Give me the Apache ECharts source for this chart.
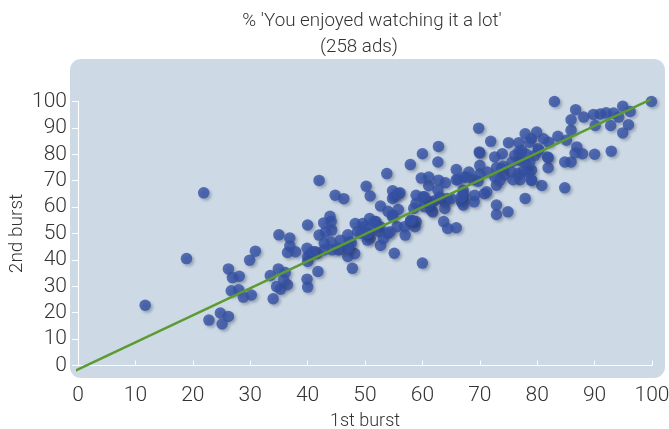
<!DOCTYPE html>
<html>
<head>
<meta charset="utf-8">
<script src="https://cdn.jsdelivr.net/npm/echarts@6/dist/echarts.min.js"></script>
<style>html,body{margin:0;padding:0;background:#fff;}#c{width:669px;height:429px;}</style>
</head>
<body>
<div id="c"></div>
<script>
const titleLine1 = "% 'You enjoyed watching it a lot'";
const titleLine2 = "(258 ads)";
const xName = "1st burst";
const yName = "2nd burst";
const xTicks = [0,10,20,30,40,50,60,70,80,90,100];
const yTicks = [0,10,20,30,40,50,60,70,80,90,100];
const firstBurst = [
11.7,18.9,21.9,22.8,24.8,26.2,25.1,26.2,26.9,28.1,26.7,28.0,28.8,30.2,29.9,30.9,34.0,33.5,34.9,36.1,
34.6,35.3,36.5,35.8,35.0,36.9,36.9,36.5,37.9,40.0,39.9,40.0,40.0,39.9,40.0,41.8,42.0,42.8,43.9,44.8,
46.3,42.0,43.1,44.2,42.9,44.1,41.7,40.4,45.7,47.0,47.0,48.2,47.8,41.4,42.9,44.3,45.5,47.1,47.3,48.3,
49.6,50.8,51.9,48.7,50.0,52.6,52.5,54.0,53.2,52.7,50.9,50.4,55.1,55.6,56.9,57.9,58.9,58.7,57.0,60.0,
50.2,50.9,54.8,56.1,55.1,58.9,60.1,61.1,59.8,61.1,58.9,60.4,52.7,54.0,54.8,55.8,58.5,58.3,51.6,54.8,
53.8,57.9,60.0,62.8,62.7,62.8,64.0,62.7,64.4,63.2,62.1,61.8,63.9,63.9,61.5,63.7,64.4,65.9,54.8,55.7,
66.8,67.1,67.1,67.1,67.1,67.1,69.1,69.0,70.8,72.9,72.9,74.9,65.9,65.9,67.3,68.1,68.9,69.7,70.0,70.0,
70.0,69.8,71.9,72.6,73.9,72.9,74.1,74.2,72.9,71.3,72.6,75.0,76.8,77.9,79.0,79.9,81.1,82.0,83.6,85.1,
85.9,77.3,76.1,77.0,75.6,78.0,79.0,77.6,76.7,75.5,77.0,75.8,78.4,80.2,79.6,81.9,81.9,84.8,85.9,86.9,
86.6,87.9,84.8,80.8,77.9,83.0,99.9,86.7,85.9,88.1,89.8,91.0,92.0,93.3,94.9,96.2,94.2,92.8,90.1,95.9,
94.9,92.9,90.0,78.7,76.8,78.1,80.2,81.8,69.9,61.2,61.2,63.0,65.0,66.8,73.5,79.0,78.7,73.8,47.6,50.6,
49.3,44.1,47.0,45.2,40.9,51.9,50.4,54.4,58.0,71.2,66.2,67.7,60.4,79.0
];
const secondBurst = [
22.8,40.5,65.4,17.2,19.9,18.6,15.7,36.6,33.3,33.8,28.3,28.7,25.9,26.7,39.9,43.3,25.3,34.1,36.6,35.2,
29.9,28.9,30.6,32.5,49.5,48.3,45.3,42.8,43.1,53.2,44.4,41.2,39.4,32.7,29.7,35.6,70.1,54.0,56.5,64.5,
63.2,49.4,50.5,51.3,46.3,46.8,42.5,41.9,47.4,49.5,41.3,42.4,36.8,43.1,43.8,43.8,43.8,45.0,46.9,53.8,
53.8,55.7,54.5,50.7,52.6,52.6,50.7,50.1,48.0,45.5,48.2,47.5,42.5,52.6,52.6,54.5,54.5,52.6,49.4,38.8,
67.9,64.2,66.2,65.4,63.9,64.5,63.9,68.1,71.0,71.4,61.4,60.1,60.4,58.4,57.0,59.1,59.5,54.8,54.5,56.4,
72.7,76.1,80.2,83.0,77.1,70.2,69.2,66.4,63.3,63.3,62.4,58.2,59.5,62.0,58.9,54.5,51.9,52.2,63.3,65.1,
62.0,66.4,65.0,63.6,62.2,60.8,64.5,62.0,65.1,60.8,57.2,58.2,74.2,70.4,71.4,73.3,70.4,69.8,72.5,75.8,
80.5,89.9,84.9,79.0,80.2,74.9,75.5,72.1,68.3,73.3,71.4,84.4,84.4,87.8,85.9,88.4,85.9,84.6,86.8,85.3,
89.1,81.5,79.6,77.7,77.1,76.5,74.0,73.7,72.7,73.3,70.4,70.4,73.3,82.1,79.6,78.7,74.9,77.1,77.1,82.8,
80.5,80.2,67.3,68.2,63.3,100.0,100.0,96.9,93.1,94.1,95.1,95.3,95.7,95.6,98.2,96.2,94.1,90.9,90.9,91.2,
88.1,81.2,80.0,84.6,80.9,80.0,81.5,79.0,80.9,60.8,62.0,63.9,63.3,63.9,70.2,70.2,77.1,74.6,46.5,50.1,
50.1,54.5,44.4,44.4,43.1,52.6,50.1,50.7,55.1,65.8,70.4,71.4,63.9,70.2
];
const fitLineX = [-1.4, 99.8];
const fitLineY = [-2.9, 100.8];

const points = firstBurst.map((v, i) => [v, secondBurst[i]]);
const fitLine = fitLineX.map((v, i) => [v, fitLineY[i]]);

const FONT = 'Roboto';
const chart = echarts.init(document.getElementById('c'), null, {renderer: 'canvas'});
chart.setOption({
  animation: false,
  backgroundColor: '#ffffff',
  title: [
    {text: titleLine1, left: 367, top: 7, textAlign: 'center',
     textStyle: {fontFamily: FONT, fontWeight: 300, fontSize: 18.8, color: '#333'}},
    {text: titleLine2, left: 354, top: 33, textAlign: 'center',
     textStyle: {fontFamily: FONT, fontWeight: 300, fontSize: 18.8, color: '#333'}}
  ],
  graphic: [{
    type: 'rect', z: -100,
    shape: {x: 70, y: 59, width: 595, height: 319, r: 11},
    style: {fill: '#cddae6'}
  }],
  grid: {left: 78, right: 17, top: 101.5, bottom: 63.5, containLabel: false, outerBoundsMode: 'none'},
  xAxis: {
    type: 'value', min: xTicks[0], max: xTicks[xTicks.length-1], interval: 10,
    name: xName, nameLocation: 'middle', nameGap: 47, nameMoveOverlap: false,
    nameTextStyle: {fontFamily: FONT, fontWeight: 300, fontSize: 18, color: '#333'},
    axisLine: {show: true, lineStyle: {color: '#ffffff', width: 1}},
    axisTick: {show: true, inside: true, length: 5, lineStyle: {color: '#ffffff'}},
    axisLabel: {margin: 20, fontFamily: FONT, fontWeight: 300, fontSize: 21, color: '#333'},
    splitLine: {show: false}
  },
  yAxis: {
    type: 'value', min: yTicks[0], max: yTicks[yTicks.length-1], interval: 10,
    name: yName, nameLocation: 'middle', nameGap: 51, nameRotate: 90, nameMoveOverlap: false,
    nameTextStyle: {fontFamily: FONT, fontWeight: 300, fontSize: 19, color: '#333'},
    axisLine: {show: true, lineStyle: {color: '#ffffff', width: 1}},
    axisTick: {show: true, inside: false, length: 6, lineStyle: {color: '#ffffff'}},
    axisLabel: {margin: 11, fontFamily: FONT, fontWeight: 300, fontSize: 21, color: '#333'},
    splitLine: {show: false}
  },
  series: [
    {
      type: 'scatter', data: points, symbolSize: 11.5, z: 3,
      itemStyle: {color: '#3451a5', shadowBlur: 3, shadowColor: 'rgba(40,50,80,0.4)', shadowOffsetX: 2, shadowOffsetY: 2}
    },
    {
      type: 'line', data: fitLine, symbol: 'none', clip: false, z: 4,
      lineStyle: {color: '#5c9b32', width: 2.5}
    }
  ]
});
</script>
</body>
</html>
